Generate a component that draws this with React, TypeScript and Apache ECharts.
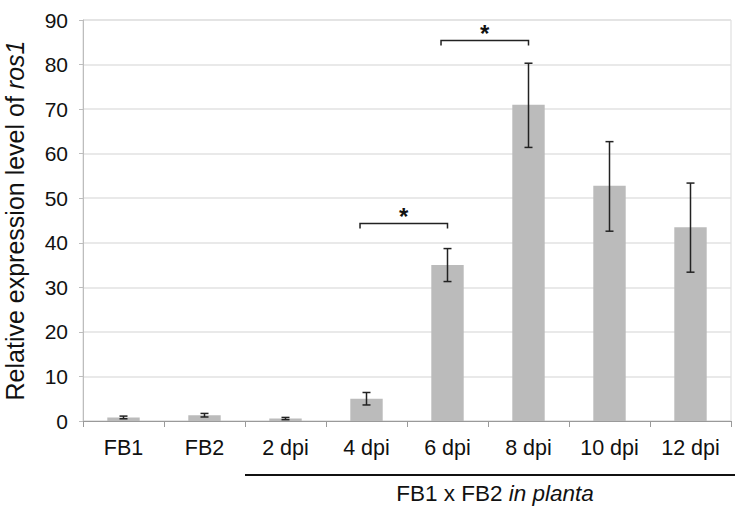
import React, { useEffect, useRef } from "react";
import * as echarts from "echarts";

const categories = ["FB1", "FB2", "2 dpi", "4 dpi", "6 dpi", "8 dpi", "10 dpi", "12 dpi"];
const means = [0.8, 1.3, 0.55, 5.0, 35.0, 71.0, 52.8, 43.5];
const errLow = [0.5, 0.9, 0.3, 3.6, 31.3, 61.4, 42.6, 33.4];
const errHigh = [1.1, 1.7, 0.8, 6.4, 38.7, 80.3, 62.7, 53.4];
// significance brackets: [startIndex, endIndex, level]
const brackets = [
  [3, 4, 44.3],
  [4, 5, 85.4],
];
const yTicks = [0, 10, 20, 30, 40, 50, 60, 70, 80, 90];

const FONT = "'Liberation Sans', Arial, sans-serif";

export default function App() {
  const ref = useRef<HTMLDivElement>(null);
  useEffect(() => {
    if (!ref.current) return;
    const chart = echarts.init(ref.current, undefined, { renderer: "svg" });
    const option: any = {
      animation: false,
      backgroundColor: "#ffffff",
      grid: {
        left: 83,
        right: 25,
        top: 20,
        bottom: 92,
        containLabel: false,
        outerBoundsMode: "none",
        show: true,
        borderColor: "#d9d9d9",
        borderWidth: 1,
      },
      xAxis: {
        type: "category",
        data: categories,
        axisLine: { lineStyle: { color: "#9a9a9a", width: 1 } },
        axisTick: { show: true, length: 6, lineStyle: { color: "#9a9a9a" } },
        axisLabel: { color: "#111", fontSize: 21.5, fontFamily: FONT, margin: 16 },
      },
      yAxis: {
        type: "value",
        min: yTicks[0],
        max: yTicks[yTicks.length - 1],
        interval: 10,
        axisLine: { show: true, lineStyle: { color: "#bdbdbd" } },
        axisTick: { show: true, length: 4, lineStyle: { color: "#bdbdbd" } },
        axisLabel: { color: "#111", fontSize: 21, fontFamily: FONT, margin: 15 },
        splitLine: { lineStyle: { color: "#e2e2e2", width: 1.5 } },
        name: "{a|Relative expression level of }{b|ros1}",
        nameLocation: "middle",
        nameGap: 56,
        nameTextStyle: {
          rich: {
            a: { fontSize: 25, fontFamily: FONT, color: "#111" },
            b: { fontSize: 25, fontFamily: FONT, color: "#111", fontStyle: "italic" },
          },
        },
      },
      series: [
        {
          type: "bar",
          data: means,
          barWidth: "40%",
          itemStyle: { color: "#bbbbbb" },
          z: 2,
        },
        {
          type: "custom",
          data: categories.map((_, i) => [i, errLow[i], errHigh[i]]),
          encode: { x: 0, y: [1, 2] },
          z: 5,
          renderItem: (params: any, api: any) => {
            const lo = api.coord([api.value(0), api.value(1)]);
            const hi = api.coord([api.value(0), api.value(2)]);
            const w = 4;
            const st = { stroke: "#222", lineWidth: 1.5 };
            return {
              type: "group",
              children: [
                { type: "line", shape: { x1: lo[0], y1: lo[1], x2: hi[0], y2: hi[1] }, style: st },
                { type: "line", shape: { x1: lo[0] - w, y1: lo[1], x2: lo[0] + w, y2: lo[1] }, style: st },
                { type: "line", shape: { x1: hi[0] - w, y1: hi[1], x2: hi[0] + w, y2: hi[1] }, style: st },
              ],
            };
          },
        },
        {
          type: "custom",
          data: brackets,
          encode: { x: [0, 1], y: 2 },
          z: 6,
          renderItem: (params: any, api: any) => {
            const band = api.size([1, 0])[0];
            const a = api.coord([api.value(0), api.value(2)]);
            const b = api.coord([api.value(1), api.value(2)]);
            const x1 = a[0] - band * 0.08;
            const x2 = b[0];
            const y = a[1];
            const st = { stroke: "#222", lineWidth: 1.5, fill: "none" };
            return {
              type: "group",
              children: [
                {
                  type: "polyline",
                  shape: { points: [[x1, y + 5], [x1, y], [x2, y], [x2, y + 5]] },
                  style: st,
                },
                {
                  type: "text",
                  x: (x1 + x2) / 2,
                  y: y + 5,
                  style: {
                    text: "*",
                    fontSize: 24,
                    fontWeight: "bold",
                    fontFamily: FONT,
                    fill: "#111",
                    align: "center",
                    verticalAlign: "bottom",
                  },
                },
              ],
            };
          },
        },
      ],
      graphic: [
        {
          type: "line",
          shape: { x1: 245, y1: 475, x2: 735, y2: 475 },
          style: { stroke: "#111", lineWidth: 2 },
        },
        {
          type: "text",
          x: 495,
          y: 493,
          style: {
            text: "{a|FB1 x FB2 }{b|in planta}",
            align: "center",
            verticalAlign: "middle",
            rich: {
              a: { fontSize: 22.5, fontFamily: FONT, fill: "#111" },
              b: { fontSize: 22.5, fontFamily: FONT, fill: "#111", fontStyle: "italic" },
            },
          },
        },
      ],
    };
    chart.setOption(option);
    return () => chart.dispose();
  }, []);
  return (
    <div
      ref={ref}
      style={{ position: "fixed", left: 0, top: 0, width: 756, height: 513 }}
    />
  );
}
